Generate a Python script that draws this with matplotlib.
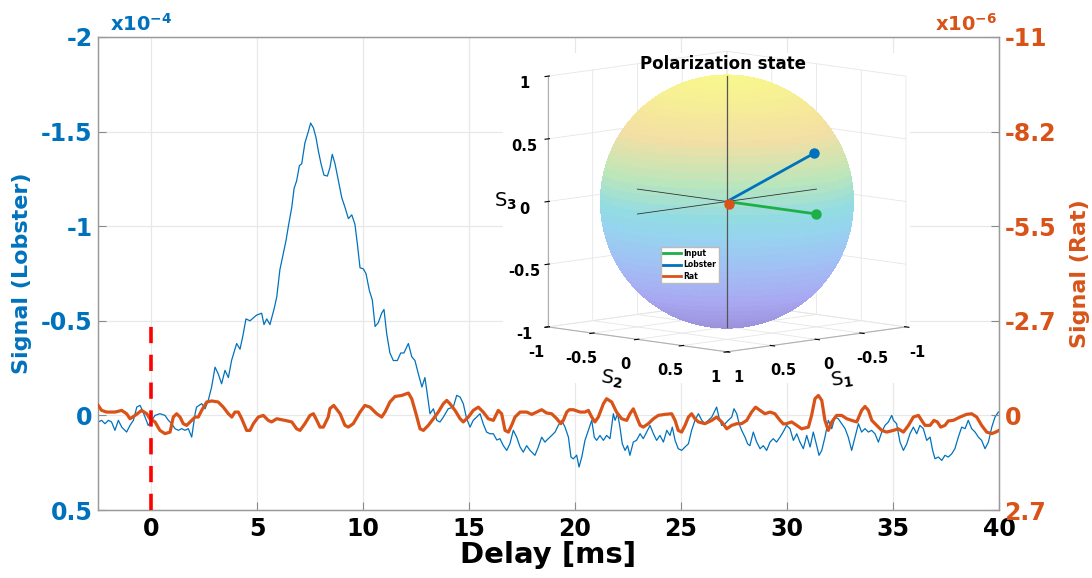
import numpy as np
import matplotlib
matplotlib.use("Agg")
import matplotlib.pyplot as plt
from matplotlib.colors import LinearSegmentedColormap
from matplotlib.patches import Rectangle
from mpl_toolkits.mplot3d import Axes3D  # noqa

plt.rcParams['font.family'] = ['DejaVu Sans']
plt.rcParams['font.weight'] = 'bold'
plt.rcParams['mathtext.fontset'] = 'dejavusans'
plt.rcParams['mathtext.default'] = 'bf'

# ---------------- data ----------------
lobster_t = [-2.49, -2.33, -2.17, -2.01, -1.86, -1.70, -1.54, -1.38, -1.15, -0.99, -0.83, -0.67, -0.52, -0.44,
             -0.28, -0.13, 0.03, 0.19, 0.42, 0.66, 0.82, 0.98, 1.13, 1.29, 1.45, 1.60, 1.76, 1.92, 2.08, 2.15,
             2.39, 2.55, 2.70, 2.86, 3.02, 3.17, 3.33, 3.49, 3.65, 3.80, 4.04, 4.20, 4.35, 4.48, 4.67, 4.98,
             5.22, 5.33, 5.46, 5.61, 5.80, 5.93, 6.08, 6.24, 6.37, 6.48, 6.64, 6.75, 6.87, 7.00, 7.11, 7.26,
             7.42, 7.53, 7.66, 7.78, 7.89, 8.02, 8.16, 8.32, 8.44, 8.55, 8.68, 8.84, 9.00, 9.15, 9.31, 9.47,
             9.62, 9.73, 9.86, 10.01, 10.14, 10.30, 10.44, 10.57, 10.72, 10.88, 10.99, 11.12, 11.27, 11.43,
             11.62, 11.78, 11.93, 12.14, 12.30, 12.45, 12.61, 12.78, 12.92, 13.03, 13.16, 13.32, 13.48, 13.63,
             13.79, 14.02, 14.26, 14.42, 14.58, 14.73, 14.89, 15.05, 15.20, 15.36, 15.52, 15.67, 15.83, 15.99,
             16.15, 16.31, 16.46, 16.62, 16.78, 16.93, 17.09, 17.25, 17.41, 17.56, 17.72, 17.88, 18.11, 18.27,
             18.43, 18.58, 18.74, 18.90, 19.06, 19.21, 19.37, 19.53, 19.69, 19.81, 19.92, 20.08, 20.19, 20.32,
             20.47, 20.63, 20.79, 20.91, 21.02, 21.18, 21.34, 21.49, 21.65, 21.81, 21.89, 22.01, 22.12, 22.23,
             22.36, 22.48, 22.59, 22.75, 22.90, 23.07, 23.22, 23.38, 23.54, 23.70, 23.85, 24.01, 24.17, 24.33,
             24.48, 24.59, 24.72, 24.87, 25.03, 25.19, 25.35, 25.50, 25.66, 25.82, 25.98, 26.13, 26.29, 26.45,
             26.57, 26.68, 26.79, 26.92, 27.08, 27.23, 27.39, 27.50, 27.63, 27.74, 27.86, 28.02, 28.14, 28.25,
             28.41, 28.57, 28.73, 28.88, 29.04, 29.20, 29.35, 29.51, 29.67, 29.83, 29.98, 30.14, 30.30, 30.46,
             30.61, 30.77, 30.93, 31.09, 31.24, 31.40, 31.51, 31.64, 31.79, 31.95, 32.11, 32.26, 32.42, 32.58,
             32.74, 32.89, 33.05, 33.21, 33.37, 33.52, 33.68, 33.84, 33.99, 34.15, 34.31, 34.47, 34.62, 34.78,
             34.94, 35.02, 35.17, 35.33, 35.49, 35.65, 35.80, 35.96, 36.12, 36.27, 36.43, 36.59, 36.75, 36.87,
             36.98, 37.14, 37.30, 37.45, 37.61, 37.77, 37.92, 38.08, 38.24, 38.40, 38.55, 38.71, 38.87, 39.03,
             39.18, 39.34, 39.50, 39.66, 39.81, 39.97]
lobster_v = [0.035, 0.026, 0.044, 0.026, 0.035, 0.079, 0.026, 0.062, 0.088, 0.053, 0.026, -0.044, -0.053, -0.035,
             0.009, 0.053, 0.026, 0.0, -0.009, 0.0, 0.026, 0.044, 0.070, 0.079, 0.070, 0.079, 0.070, 0.115, -0.009,
             -0.044, -0.062, -0.035, -0.079, -0.150, -0.255, -0.22, -0.167, -0.238, -0.20, -0.29, -0.38, -0.35,
             -0.43, -0.51, -0.50, -0.53, -0.54, -0.48, -0.51, -0.48, -0.56, -0.625, -0.77, -0.855, -0.925, -1.0,
             -1.10, -1.20, -1.24, -1.32, -1.33, -1.44, -1.50, -1.545, -1.52, -1.47, -1.40, -1.33, -1.27, -1.265,
             -1.31, -1.38, -1.33, -1.24, -1.15, -1.10, -1.04, -1.06, -1.01, -0.91, -0.78, -0.775, -0.75, -0.66,
             -0.61, -0.47, -0.49, -0.54, -0.56, -0.43, -0.33, -0.29, -0.29, -0.33, -0.33, -0.38, -0.31, -0.29,
             -0.22, -0.15, -0.20, -0.115, -0.009, -0.035, 0.026, 0.035, 0.009, -0.035, -0.044, -0.106, -0.097,
             -0.062, 0.018, 0.062, 0.026, 0.009, -0.009, 0.044, 0.088, 0.097, 0.097, 0.13, 0.123, 0.16, 0.185,
             0.15, 0.079, 0.115, 0.167, 0.194, 0.16, 0.185, 0.211, 0.167, 0.115, 0.141, 0.123, 0.106, 0.088,
             0.053, 0.026, 0.062, 0.115, 0.22, 0.23, 0.21, 0.273, 0.22, 0.132, 0.079, 0.026, 0.115, 0.132, 0.106,
             0.132, 0.106, 0.123, -0.009, 0.026, -0.009, 0.062, 0.15, 0.185, 0.16, 0.211, 0.141, 0.132, 0.097,
             0.123, 0.088, 0.053, 0.097, 0.132, 0.106, 0.141, 0.079, 0.106, 0.062, 0.132, 0.176, 0.185, 0.167,
             0.15, 0.079, 0.026, -0.009, 0.026, 0.044, 0.026, 0.009, -0.018, -0.044, 0.009, 0.053, 0.044, 0.026,
             0.009, -0.035, -0.009, 0.044, 0.079, 0.115, 0.15, 0.16, 0.088, 0.141, 0.176, 0.16, 0.185, 0.141,
             0.123, 0.141, 0.115, 0.085, 0.053, 0.07, 0.132, 0.097, 0.141, 0.176, 0.106, 0.167, 0.088, 0.159,
             0.211, 0.185, 0.115, 0.026, 0.07, 0.009, 0.018, 0.044, 0.07, 0.115, 0.185, 0.115, 0.044, 0.088,
             0.07, 0.088, 0.079, 0.097, 0.141, 0.088, 0.053, 0.035, 0.0, 0.026, 0.044, 0.141, 0.185, 0.15, 0.097,
             0.062, 0.097, 0.053, 0.07, 0.132, 0.115, 0.185, 0.229, 0.22, 0.238, 0.211, 0.22, 0.203, 0.176,
             0.115, 0.062, 0.07, 0.026, 0.07, 0.088, 0.115, 0.132, 0.176, 0.141, 0.062, 0.009, -0.018]

rat_t = [-2.49, -2.33, -2.09, -1.70, -1.38, -1.15, -0.99, -0.75, -0.44, -0.20, -0.05, 0.19, 0.42, 0.66, 0.90,
         1.05, 1.21, 1.37, 1.52, 1.68, 1.92, 2.08, 2.23, 2.39, 2.63, 2.86, 3.17, 3.41, 3.65, 3.81, 3.96, 4.12,
         4.28, 4.51, 4.67, 4.83, 5.06, 5.30, 5.53, 5.69, 5.93, 6.32, 6.64, 6.87, 7.03, 7.26, 7.50, 7.66, 7.82,
         7.97, 8.13, 8.36, 8.44, 8.62, 8.92, 9.15, 9.31, 9.54, 9.86, 10.09, 10.33, 10.65, 10.88, 11.04, 11.27,
         11.51, 11.83, 12.14, 12.30, 12.50, 12.69, 12.85, 13.08, 13.32, 13.55, 13.79, 13.95, 14.10, 14.34,
         14.58, 14.73, 14.97, 15.20, 15.44, 15.67, 15.91, 16.15, 16.38, 16.54, 16.70, 16.86, 17.01, 17.17,
         17.41, 17.72, 17.96, 18.19, 18.43, 18.66, 18.90, 19.14, 19.33, 19.45, 19.61, 19.73, 19.92, 20.24,
         20.47, 20.63, 20.79, 20.94, 21.10, 21.34, 21.49, 21.73, 21.96, 22.20, 22.44, 22.59, 22.75, 22.91,
         23.07, 23.22, 23.46, 23.70, 23.93, 24.25, 24.56, 24.72, 24.87, 25.03, 25.19, 25.35, 25.50, 25.66,
         25.82, 26.13, 26.45, 26.68, 26.92, 27.16, 27.39, 27.63, 27.86, 28.10, 28.33, 28.52, 28.73, 28.96,
         29.20, 29.43, 29.67, 29.83, 29.98, 30.22, 30.46, 30.69, 31.01, 31.16, 31.32, 31.48, 31.64, 31.79,
         31.95, 32.11, 32.34, 32.58, 32.82, 33.05, 33.29, 33.52, 33.68, 33.84, 34.00, 34.23, 34.47, 34.70,
         35.02, 35.25, 35.49, 35.73, 35.96, 36.20, 36.35, 36.51, 36.75, 36.93, 37.09, 37.25, 37.45, 37.61,
         37.84, 38.16, 38.47, 38.71, 38.95, 39.18, 39.42, 39.66, 39.84, 40.0]
rat_v = [-0.29, -0.145, -0.097, -0.097, -0.145, -0.048, 0.097, 0.0, -0.145, -0.048, 0.097, 0.19, 0.436, 0.53,
         0.485, 0.048, -0.048, 0.048, 0.24, 0.29, 0.145, 0.048, 0.048, -0.145, -0.39, -0.42, -0.39, -0.24,
         -0.048, 0.048, -0.097, -0.097, 0.097, 0.436, 0.436, 0.24, 0.048, 0.0, 0.145, 0.19, 0.097, 0.145, 0.19,
         0.39, 0.436, 0.24, 0.0, -0.048, 0.145, 0.34, 0.34, 0.048, -0.2, -0.29, -0.048, 0.29, 0.34, 0.24,
         -0.097, -0.29, -0.24, -0.048, 0.048, -0.097, -0.39, -0.55, -0.58, -0.65, -0.48, -0.048, 0.39, 0.436,
         0.29, 0.097, -0.097, -0.34, -0.436, -0.34, -0.145, 0.097, 0.19, 0.048, -0.145, -0.24, -0.097, 0.097,
         0.145, -0.145, -0.048, 0.436, 0.485, 0.29, 0.048, -0.097, -0.097, -0.03, -0.097, -0.165, -0.07,
         -0.048, 0.097, 0.24, 0.145, -0.097, -0.165, -0.165, -0.097, -0.097, -0.145, 0.048, 0.19, 0.048,
         -0.34, -0.485, -0.39, -0.097, 0.097, 0.145, -0.048, -0.19, 0.048, 0.29, 0.34, 0.24, 0.097, 0.0,
         -0.03, -0.048, 0.145, 0.436, 0.485, 0.29, 0.048, -0.048, 0.097, 0.19, 0.24, 0.145, 0.048, 0.19, 0.39,
         0.29, 0.24, 0.24, 0.145, -0.097, -0.24, -0.145, -0.048, -0.097, -0.048, 0.145, 0.25, 0.24, 0.19,
         0.29, 0.39, 0.34, 0.0, -0.485, -0.58, -0.436, 0.145, 0.436, 0.19, 0.0, 0.0, 0.097, 0.145, 0.19,
         -0.145, -0.26, -0.145, 0.145, 0.29, 0.436, 0.485, 0.436, 0.39, 0.485, 0.29, 0.048, 0.0, 0.145, 0.29,
         0.29, 0.145, 0.19, 0.34, 0.29, 0.16, 0.145, 0.048, -0.03, -0.048, 0.048, 0.29, 0.485, 0.53, 0.485,
         0.436]

stim_t = 0.0
stim_span = [0.5, -0.5]

x_ticks = [0, 5, 10, 15, 20, 25, 30, 35, 40]
left_ticks = [0.5, 0, -0.5, -1, -1.5, -2]
left_labels = ['0.5', '0', '-0.5', '-1', '-1.5', '-2']
right_ticks = [2.75, 0, -2.75, -5.5, -8.25, -11]
right_labels = ['2.7', '0', '-2.7', '-5.5', '-8.2', '-11']

# Stokes vectors (S1, S2, S3)
stokes_names = ['Input', 'Lobster', 'Rat']
stokes_S1 = [0.0, -0.10, 0.0]
stokes_S2 = [1.0, 0.87, 0.02]
stokes_S3 = [0.0, 0.46, -0.02]
stokes_ticks = [-1, -0.5, 0, 0.5, 1]
stokes_labels = ['-1', '-0.5', '0', '0.5', '1']

BLUE = '#0072BD'
ORANGE = '#D95319'
GREEN = '#1FAF49'

# ---------------- figure ----------------
fig = plt.figure(figsize=(10.92, 5.78), dpi=100)
ax = fig.add_axes([98 / 1092, 1 - 510 / 578, (999 - 98) / 1092, (510 - 37) / 578])
ax2 = ax.twinx()

ax.plot(lobster_t, lobster_v, color=BLUE, lw=0.9, zorder=3)
ax2.plot(rat_t, rat_v, color=ORANGE, lw=2.3, solid_joinstyle='round', zorder=3)
ax2.plot([stim_t, stim_t], [stim_span[0] * 5.5, stim_span[1] * 5.5], color='red', lw=2.6,
         linestyle=(0, (4.5, 3.2)), zorder=4)

ax.set_xlim(-2.5, 40)
ax.set_ylim(0.5, -2)
ax2.set_ylim(2.75, -11)
ax.set_xticks(x_ticks)
ax.set_xticklabels([str(v) for v in x_ticks])
ax.set_yticks(left_ticks)
ax.set_yticklabels(left_labels)
ax2.set_yticks(right_ticks)
ax2.set_yticklabels(right_labels)

ax.grid(True, color='#e8e8e8', lw=0.9)
for a in (ax, ax2):
    for s in a.spines.values():
        s.set_color('#9a9a9a')
        s.set_linewidth(0.9)
ax.tick_params(axis='x', direction='in', length=6, color='#8a8a8a', labelsize=17, labelcolor='black', pad=5)
ax.tick_params(axis='y', direction='in', length=6, color='#8a8a8a', labelsize=17, labelcolor=BLUE, pad=4)
ax2.tick_params(axis='y', direction='in', length=6, color='#8a8a8a', labelsize=17, labelcolor=ORANGE, pad=4)

ax.set_xlabel('Delay [ms]', fontsize=21, fontweight='bold', labelpad=0)
ax.set_ylabel('Signal (Lobster)', fontsize=16, fontweight='bold', color=BLUE, labelpad=6)
ax2.set_ylabel('Signal (Rat)', fontsize=16, fontweight='bold', color=ORANGE, labelpad=10)

ax.text(0.013, 1.005, r'x10$^{-4}$', transform=ax.transAxes, color=BLUE, fontsize=14,
        fontweight='bold', ha='left', va='bottom')
ax2.text(0.998, 1.005, r'x10$^{-6}$', transform=ax2.transAxes, color=ORANGE, fontsize=14,
         fontweight='bold', ha='right', va='bottom')

# white background of the inset
fig.add_artist(Rectangle((503 / 1092, 1 - 383 / 578), 407 / 1092, 330 / 578, transform=fig.transFigure,
                         facecolor='white', edgecolor='none', zorder=5))

# ---------------- 3D inset ----------------
ax3 = fig.add_axes([519 / 1092, 1 - 371 / 578, 407 / 1092, 330 / 578], projection='3d',
                   computed_zorder=False)
ax3.set_zorder(10)
ax3.patch.set_visible(False)
ax3.set_proj_type('ortho')
ax3.view_init(elev=8, azim=45)
ax3.set_box_aspect((1, 1, 1), zoom=1.29)

sph_cmap = LinearSegmentedColormap.from_list('sph', [
    (0.00, '#9b8ed8'), (0.15, '#a9a8f2'), (0.30, '#a2c0f5'), (0.45, '#95d6ee'),
    (0.52, '#92dde2'), (0.65, '#bfe7b8'), (0.80, '#f4dfa5'), (1.00, '#f9f78e')])
u = np.linspace(0, 2 * np.pi, 72)
w = np.linspace(0, np.pi, 48)
SX = np.outer(np.cos(u), np.sin(w))
SY = np.outer(np.sin(u), np.sin(w))
SZ = np.outer(np.ones_like(u), np.cos(w))
ax3.plot_surface(SX, SY, SZ, facecolors=sph_cmap((SZ + 1) / 2), shade=False, linewidth=0,
                 antialiased=False, rstride=1, cstride=1, alpha=0.9, zorder=1)
ax3.plot([-1, 1], [0, 0], [0, 0], color='#333333', lw=0.6, zorder=2)
ax3.plot([0, 0], [-1, 1], [0, 0], color='#333333', lw=0.6, zorder=2)
ax3.plot([0, 0], [0, 0], [-1, 1], color='#555555', lw=0.9, zorder=2)

for name, s1, s2, s3, c in zip(stokes_names, stokes_S1, stokes_S2, stokes_S3, [GREEN, BLUE, ORANGE]):
    ax3.plot([0, s1], [0, s2], [0, s3], color=c, lw=2, label=name, zorder=3)
    ax3.plot([s1], [s2], [s3], 'o', color=c, ms=6.5, zorder=4)

ax3.set_xlim(-1, 1)
ax3.set_ylim(-1, 1)
ax3.set_zlim(-1, 1)
ax3.set_xticks(stokes_ticks)
ax3.set_yticks(stokes_ticks)
ax3.set_zticks(stokes_ticks)
ax3.set_xticklabels(stokes_labels)
ax3.set_yticklabels(stokes_labels)
ax3.set_zticklabels(stokes_labels)
ax3.tick_params(labelsize=10.5, pad=0)
for axis in (ax3.xaxis, ax3.yaxis, ax3.zaxis):
    axis.set_pane_color((1, 1, 1, 0))
    axis.pane.set_edgecolor('#c8c8c8')
    axis._axinfo['grid']['color'] = '#e6e6e6'
    axis._axinfo['grid']['linewidth'] = 0.6
    axis.line.set_color('#b0b0b0')
ax3.set_xlabel('S$_1$', fontsize=14, labelpad=-3)
ax3.set_ylabel('S$_2$', fontsize=14, labelpad=-3)
ax3.zaxis.set_rotate_label(False)
ax3.set_zlabel('S$_3$', fontsize=14, rotation=0, labelpad=-6.5)
ax3.text2D(0.5, 0.93, 'Polarization state', transform=ax3.transAxes, ha='center', va='center',
           fontsize=12, fontweight='bold')
leg = ax3.legend(loc='upper left', bbox_to_anchor=(657 / 1092, 1 - 243 / 578), bbox_transform=fig.transFigure,
                 fontsize=5.5, handlelength=2.4, borderpad=0.3, labelspacing=0.3, handletextpad=0.3,
                 fancybox=False, framealpha=1, edgecolor='#bbbbbb')

fig.savefig('out.png', dpi=100)
